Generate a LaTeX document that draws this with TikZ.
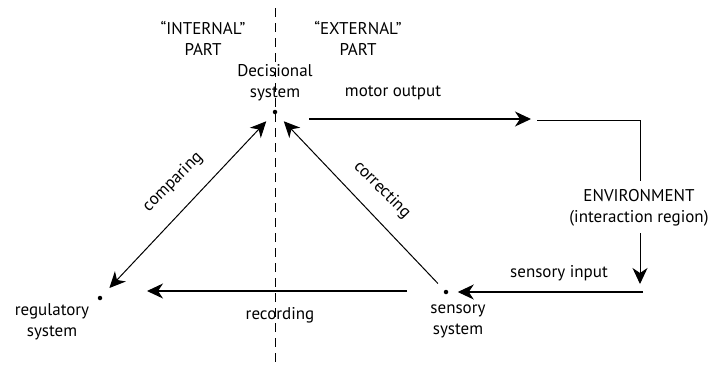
\documentclass[tikz,border=0pt]{standalone}
\usepackage{fontspec}
\setmainfont{PT Sans}
\usetikzlibrary{arrows.meta}
\begin{document}
\begin{tikzpicture}[x=1pt,y=-1pt,line width=1pt,
  lbl/.style={font=\fontsize{17}{21}\selectfont,align=center,inner sep=0pt},
  dot/.style={circle,fill,inner sep=0pt,minimum size=4.5pt},
  arr/.style={-{Stealth[length=16pt,width=15pt,inset=5pt]}}]
  \useasboundingbox (0,0) rectangle (712,365);
  % internal / external split
  \coordinate (divtop) at (275,8);
  \coordinate (divbot) at (275,365);
  \draw[dash pattern=on 9pt off 6pt] (divtop) -- (divbot);
  \node[lbl] (intl) at (203,38) {“INTERNAL”\\PART};
  \node[lbl] (extl) at (358,38) {“EXTERNAL”\\PART};
  % the three systems
  \node[dot] (dec) at (275,112) {};
  \node[dot] (reg) at (100,298) {};
  \node[dot] (sens) at (446,292) {};
  \node[lbl] (decl) at (275,83) {Decisional\\system};
  \node[lbl] (regl) at (52,322) {regulatory\\system};
  \node[lbl] (sensl) at (458,321) {sensory\\system};
  % triangle
  \draw[{Stealth[length=16pt,width=15pt,inset=5pt]}-{Stealth[length=16pt,width=15pt,inset=5pt]},
    shorten <=10pt, shorten >=11pt] (dec) -- (reg);
  \node[lbl,rotate=45] (cmp) at (173,182) {comparing};
  \draw[arr, shorten <=9pt, shorten >=10pt] (sens) -- (dec);
  \node[lbl,rotate=-45] (cor) at (382,190) {correcting};
  \coordinate (recA) at (407,291);
  \coordinate (recB) at (147,291);
  \draw[arr, line width=1.2pt] (recA) -- (recB);
  \node[lbl] (recl) at (280,315) {recording};
  % loop through the environment
  \coordinate (motA) at (309,119);
  \coordinate (motB) at (531,119);
  \draw[arr, line width=1.2pt] (motA) -- (motB);
  \node[lbl] (motl) at (393,93) {motor output};
  \coordinate (envA) at (537,120);
  \coordinate (envB) at (640,181);
  \draw (envA) -| (envB);
  \node[lbl] (env) at (639,208) {ENVIRONMENT\\(interaction region)};
  \coordinate (envC) at (640,233);
  \coordinate (envD) at (640,284);
  \draw[arr] (envC) -- (envD);
  \coordinate (inA) at (643,292);
  \draw[arr, line width=1.2pt, shorten >=9pt] (inA) -- (sens);
  \node[lbl] (inl) at (559,273) {sensory input};
\end{tikzpicture}
\end{document}
